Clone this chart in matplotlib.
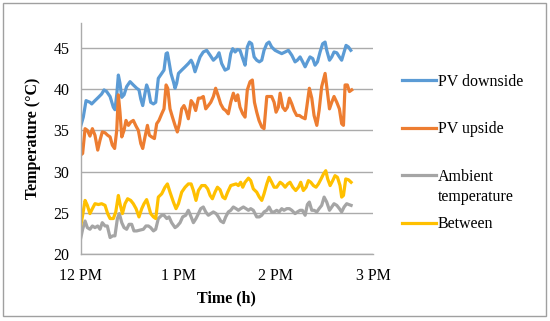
import numpy as np
import matplotlib
matplotlib.use("Agg")
import matplotlib.pyplot as plt
from matplotlib.patches import Rectangle

# time in minutes after 12 PM
down_t = [0, 1.6, 3.3, 5.7, 6.8, 8.8, 10.9, 12.9, 14.4, 16.0, 18.1, 20.1, 21.1, 22.2, 23.2, 24.2,
          25.3, 26.7, 28.3, 30.4, 32.4, 34.5, 35.9, 37.0, 38.2, 39.6, 40.6, 41.7, 43.1, 44.8, 46.2,
          47.8, 49.9, 51.3, 52.6, 53.4, 54.4, 55.6, 57.1, 58.1, 59.1, 60.2, 62.2, 64.3, 66.3, 68.0,
          69.0, 70.4, 72.1, 73.5, 75.5, 77.6, 79.7, 81.7, 83.8, 85.2, 86.8, 88.9, 90.9, 92.4, 93.6,
          95.1, 96.5, 98.1, 99.8, 101.2, 102.6, 103.9, 105.3, 106.8, 108.4, 110.0, 111.5, 112.9,
          114.6, 116.0, 117.6, 119.7, 121.7, 123.8, 125.9, 127.9, 130.0, 132.0, 133.4, 135.1, 136.7,
          138.2, 139.6, 141.2, 142.9, 144.3, 145.8, 147.4, 149.0, 150.5, 151.5, 153.2, 154.6, 156.0,
          157.7, 159.3, 160.7, 162.2, 163.4, 164.9, 166.3]
down_v = [35.5, 36.6, 38.6, 38.4, 38.2, 38.6, 39.0, 39.4, 39.9, 39.7, 39.1, 37.8, 37.5, 39.3, 41.7, 40.7,
          39.0, 39.3, 40.3, 40.9, 40.5, 40.1, 39.9, 38.8, 38.0, 39.5, 40.5, 39.9, 38.4, 38.2, 38.4,
          41.3, 41.9, 42.3, 44.3, 44.4, 43.3, 41.9, 40.9, 40.1, 40.7, 41.9, 42.3, 42.7, 43.1, 43.5,
          43.1, 42.1, 43.1, 43.9, 44.5, 44.7, 44.1, 43.5, 43.9, 44.4, 43.1, 42.3, 42.5, 44.3, 44.9,
          44.5, 44.8, 44.7, 43.7, 42.9, 45.1, 45.7, 45.5, 43.9, 43.5, 43.3, 43.5, 44.7,
          45.5, 45.7, 45.1, 44.7, 44.5, 44.3, 44.5, 44.7, 44.1, 43.3, 43.5, 43.9, 43.3,
          42.7, 43.3, 43.9, 43.7, 42.9, 43.3, 44.5, 45.5, 45.7, 44.7, 43.5, 43.9, 44.5,
          44.4, 43.9, 43.5, 44.5, 45.3, 45.1, 44.7]

up_t = [0, 1.2, 2.7, 4.1, 5.7, 7.2, 8.8, 10.5, 11.9, 13.3, 15.0, 16.6, 18.1, 19.5, 20.9, 22.2, 23.2,
        24.2, 25.3, 26.7, 27.9, 29.4, 30.8, 32.4, 34.1, 35.5, 37.0, 38.2, 39.6, 41.1, 42.3, 43.7,
        45.4, 46.8, 48.2, 49.9, 51.3, 52.6, 53.6, 55.0, 56.5, 58.1, 59.5, 60.8, 62.2, 63.6, 64.9,
        66.3, 68.0, 69.4, 70.8, 72.5, 73.9, 75.5, 77.0, 78.6, 80.1, 81.7, 83.1, 84.8, 86.2, 87.9,
        89.3, 90.9, 92.4, 94.0, 95.5, 96.7, 98.1, 99.8, 101.2, 102.6, 104.3, 105.7, 107.0, 108.4,
        109.8, 111.5, 112.9, 114.6, 116.0, 117.6, 119.1, 120.3, 121.7, 122.8, 124.4, 125.9, 127.3,
        128.5, 130.0, 131.4, 133.0, 134.7, 136.1, 138.2, 139.2, 140.8, 142.3, 143.7, 145.4, 146.8,
        148.4, 150.5, 151.5, 153.2, 154.6, 156.0, 157.7, 159.3, 160.7, 161.8, 162.8, 164.2, 165.5,
        166.9]
up_v = [32.0, 32.2, 35.2, 35.0, 34.3, 35.2, 34.4, 32.6, 33.8, 34.8, 34.7, 34.4, 34.2, 33.2, 32.8, 35.0,
        39.3, 37.2, 34.2, 35.0, 36.2, 35.6, 36.0, 36.2, 35.5, 35.0, 33.4, 32.8, 34.2, 35.6, 34.4,
        34.2, 34.0, 35.8, 36.2, 37.0, 37.6, 40.5, 40.1, 37.6, 36.6, 35.6, 34.8, 35.8, 37.6, 38.0,
        37.4, 36.4, 38.6, 38.2, 37.4, 38.9, 38.9, 39.1, 37.6, 38.0, 38.4, 39.1, 40.1, 39.1, 38.2,
        37.6, 37.4, 37.0, 38.4, 39.5, 38.6, 39.3, 37.8, 37.0, 36.6, 39.9, 40.9, 41.1, 38.4, 37.2,
        36.2, 35.4, 35.2, 39.1, 39.1, 39.1, 38.4, 37.2, 37.8, 39.5, 37.8, 37.4, 37.8,
        38.9, 38.2, 37.4, 36.8, 36.8, 36.6, 36.4, 37.8, 40.1, 38.9, 36.8, 35.6, 37.4,
        40.3, 41.9, 40.3, 37.6, 38.4, 39.1, 38.4, 37.6, 35.8, 35.6, 40.5, 40.5, 39.7,
        39.9]

amb_t = [0, 1.2, 2.7, 4.1, 5.7, 7.2, 8.8, 10.5, 11.9, 13.3, 15.0, 16.4, 18.1, 19.7, 21.1, 22.6, 23.8,
         25.3, 26.7, 28.3, 29.8, 31.4, 32.8, 34.5, 36.5, 38.6, 40.2, 41.7, 43.1, 44.8, 46.2, 47.8,
         49.9, 51.3, 53.0, 54.4, 56.0, 58.1, 59.5, 61.2, 62.8, 64.7, 66.3, 68.0, 69.4, 71.0, 72.5,
         73.9, 75.5, 77.0, 78.6, 80.1, 81.7, 83.4, 84.8, 86.2, 87.9, 89.3, 90.9, 92.4, 94.0, 95.7,
         97.1, 98.5, 100.2, 101.8, 103.3, 104.7, 106.3, 108.4, 110.0, 111.5, 112.9, 114.6, 116.0,
         117.6, 119.1, 120.7, 122.2, 123.8, 125.2, 126.9, 128.5, 130.0, 132.0, 133.4, 135.1, 136.5,
         138.2, 139.6, 140.8, 142.3, 143.7, 145.4, 146.8, 148.4, 149.9, 151.5, 153.2, 154.6, 156.0,
         157.7, 159.3, 160.7, 162.2, 163.8, 165.1, 166.5]
amb_v = [21.9, 23.0, 24.0, 23.2, 23.0, 23.4, 23.2, 23.4, 23.0, 23.8, 23.4, 23.4, 22.0, 22.2, 22.2, 24.3,
         24.9, 23.8, 23.2, 23.0, 23.6, 23.6, 22.8, 22.8, 22.9, 23.0, 23.4, 23.4, 23.2, 22.8, 23.0,
         24.3, 24.7, 24.7, 24.3, 24.5, 23.8, 23.2, 23.4, 23.8, 24.5, 24.7, 25.3, 24.5, 23.8, 24.3,
         24.9, 25.5, 25.7, 25.1, 24.7, 24.9, 25.1, 24.9, 24.5, 24.0, 23.8, 24.5, 25.1, 25.3, 25.7,
         25.5, 25.3, 25.5, 25.7, 25.5, 25.3, 25.5, 25.3, 24.5, 24.5, 24.7, 25.1, 25.3, 25.7,
         25.1, 25.1, 25.3, 25.1, 25.5, 25.3, 25.5, 25.5, 25.3, 24.9, 25.1, 25.3, 25.3,
         24.7, 26.0, 26.3, 25.3, 25.3, 25.1, 25.5, 25.9, 26.9, 26.3, 25.3, 25.7, 26.1,
         25.9, 25.5, 25.1, 25.7, 26.1, 26.0, 25.9]

betw_t = [0, 1.2, 2.7, 4.1, 5.7, 7.2, 8.8, 10.9, 12.9, 15.0, 16.6, 18.1, 20.1, 21.6, 23.2, 24.2, 25.7,
          27.3, 28.9, 30.8, 32.4, 34.1, 35.9, 37.6, 39.0, 40.6, 41.7, 43.1, 44.8, 46.2, 47.8, 49.9,
          51.9, 53.4, 55.0, 57.1, 58.7, 60.2, 62.2, 64.3, 66.3, 68.0, 69.4, 71.0, 72.5, 74.5, 76.6,
          78.2, 79.7, 81.1, 82.7, 84.2, 85.8, 87.5, 88.9, 90.5, 92.4, 94.0, 95.7, 97.1, 98.5, 99.8,
          101.2, 103.3, 104.7, 106.3, 108.4, 110.0, 111.5, 112.9, 114.6, 116.0, 117.6, 119.1, 120.7,
          122.8, 124.2, 125.9, 127.5, 128.9, 130.6, 132.4, 134.1, 135.5, 137.1, 138.8, 140.2, 141.7,
          143.3, 144.9, 146.4, 148.0, 149.5, 150.9, 152.1, 153.6, 155.2, 156.6, 158.1, 159.7, 160.7,
          161.8, 163.2, 164.9, 166.5]
betw_v = [23.4, 24.7, 26.5, 25.9, 24.9, 25.5, 26.1, 26.0, 26.1, 25.9, 24.9, 24.3, 24.3, 25.1, 27.1, 26.1,
          24.9, 26.1, 26.7, 26.5, 26.1, 25.5, 24.5, 25.5, 26.1, 26.6, 25.9, 24.9, 24.5, 24.3, 26.9,
          27.3, 28.1, 28.5, 27.5, 26.3, 25.5, 26.1, 27.5, 28.1, 28.5, 28.5, 27.7, 26.5, 27.7, 28.3,
          28.3, 27.9, 27.1, 26.7, 27.5, 28.1, 27.8, 26.9, 26.7, 27.5, 28.3, 28.4, 28.5, 28.3, 28.7,
          28.1, 28.7, 29.2, 28.9, 27.9, 27.5, 26.9, 26.5, 27.3, 28.5, 29.3, 28.7, 28.1, 28.1,
          28.7, 28.5, 28.1, 28.5, 28.7, 28.1, 27.7, 28.1, 28.7, 27.7, 28.1, 28.9, 28.7,
          28.3, 28.1, 28.5, 29.1, 29.7, 30.1, 29.1, 28.3, 28.9, 29.5, 29.3, 28.3, 26.9,
          27.1, 29.1, 29.0, 28.7]

series = [
    ("PV downside", down_t, down_v, "#5B9BD5"),
    ("PV upside", up_t, up_v, "#ED7D31"),
    ("Ambient", amb_t, amb_v, "#A5A5A5"),
    ("Between", betw_t, betw_v, "#FFC000"),
]

xticks = [0, 60, 120, 180]
xtick_labels = ["12 PM", "1 PM", "2 PM", "3 PM"]
yticks = [20, 25, 30, 35, 40, 45]

plt.rcParams["font.family"] = ["Liberation Serif", "DejaVu Serif"]
fs = 11.5
grid_c = "#ABABAB"

fig = plt.figure(figsize=(5.5, 3.21), dpi=100)
fig.patches.append(Rectangle((0.006, 0.016), 0.987, 0.975, transform=fig.transFigure,
                             fill=False, edgecolor="#A0A0A0", linewidth=1.0))
ax = fig.add_axes([0.1467, 0.2087, 0.5315, 0.7193])

handles = []
for name, t, v, c in series:
    h, = ax.plot(t, v, color=c, linewidth=2.3, solid_joinstyle="round", label=name)
    handles.append(h)

ax.set_xlim(0, 180)
ax.set_ylim(20, 48)
ax.set_xticks(xticks)
ax.set_xticklabels(xtick_labels)
ax.set_yticks(yticks)
ax.grid(axis="y", color=grid_c, linewidth=1.0)
ax.set_axisbelow(True)
for s in ["top", "right"]:
    ax.spines[s].set_visible(False)
for s in ["left", "bottom"]:
    ax.spines[s].set_color(grid_c)
    ax.spines[s].set_linewidth(1.0)
ax.tick_params(axis="y", length=0, labelsize=fs, pad=8)
ax.tick_params(axis="x", length=0, labelsize=fs, pad=10)
ax.set_xlabel("Time (h)", fontsize=fs, fontweight="bold", labelpad=5)
ax.set_ylabel("Temperature (°C)", fontsize=fs, fontweight="bold", labelpad=9)

leg = fig.legend(handles=handles, loc="upper left", bbox_to_anchor=(0.719, 0.79),
                 frameon=False, fontsize=fs, handlelength=2.15, handletextpad=0.1,
                 labelspacing=1.97, borderaxespad=0)
amb_text = leg.get_texts()[2]
fig.canvas.draw()
ax.annotate("temperature", xy=(0, 0), xycoords=amb_text, xytext=(0, -3),
            textcoords="offset points", ha="left", va="top", fontsize=fs)

fig.savefig("out.png", dpi=100)
